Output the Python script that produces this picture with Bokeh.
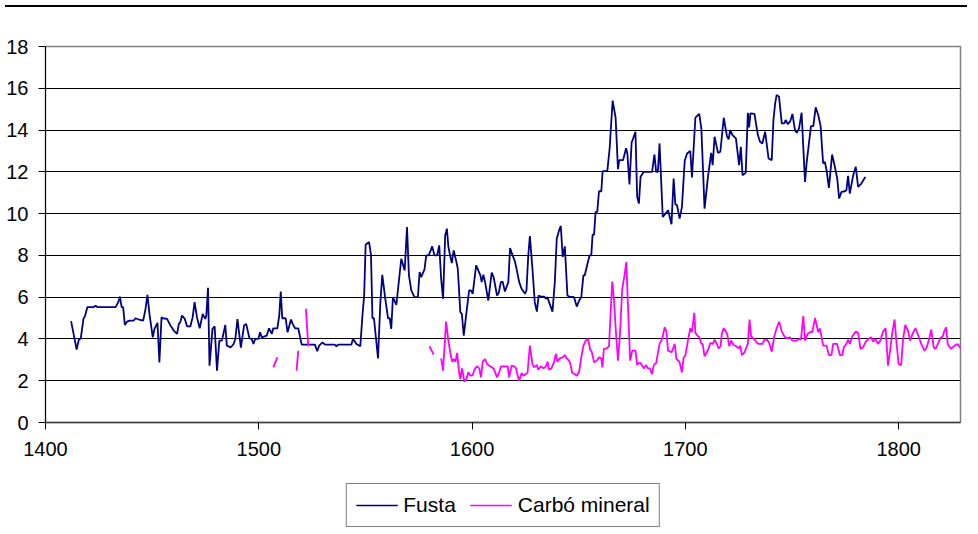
import numpy as np
from bokeh.plotting import figure
from bokeh.models import Legend, LegendItem, Div, FixedTicker, Range1d
from bokeh.layouts import column
from bokeh.embed import file_html
from bokeh.resources import INLINE

nan = float("nan")

fusta_year = [1412.0, 1414.6, 1415.7, 1416.5, 1417.8, 1418.5, 1419.6, 1422.7, 1423.5, 1424.3,
              1432.9, 1434.1, 1434.9, 1435.7, 1436.4, 1437.2, 1438.3, 1439.4, 1441.4, 1442.2,
              1443.8, 1445.8, 1446.9, 1447.8, 1448.8, 1450.3, 1451.1, 1452.5, 1453.4, 1454.4,
              1455.0, 1457.0, 1458.6, 1460.1, 1461.7, 1462.5, 1463.2, 1464.0, 1465.3, 1466.4,
              1467.9, 1469.0, 1469.9, 1471.0, 1472.3, 1473.7, 1474.9, 1475.4, 1476.2, 1476.9,
              1478.3, 1479.3, 1480.4, 1481.5, 1482.7, 1484.3, 1485.0, 1486.9, 1488.2, 1489.0,
              1490.0, 1491.6, 1493.1, 1494.1, 1495.6, 1496.7, 1497.5, 1498.3, 1499.8, 1500.6,
              1501.4, 1503.7, 1504.8, 1506.1, 1506.8, 1508.7, 1509.6, 1510.3, 1511.0, 1512.6,
              1513.5, 1515.1, 1515.9, 1517.0, 1518.5, 1520.1, 1523.2, 1526.3, 1527.4, 1528.3,
              1529.9, 1531.0, 1535.6, 1536.4, 1537.2, 1543.4, 1544.2, 1545.8, 1547.6, 1548.6,
              1549.4, 1550.1, 1551.7, 1552.6, 1553.3, 1554.0, 1555.9, 1557.0, 1557.9, 1559.2,
              1560.6, 1561.4, 1562.1, 1562.9, 1564.5, 1566.8, 1568.4, 1569.5, 1570.4, 1571.5,
              1573.0, 1574.6, 1575.4, 1576.1, 1577.7, 1578.5, 1579.7, 1581.3, 1582.4, 1583.6,
              1584.6, 1585.5, 1586.4, 1587.4, 1588.2, 1588.9, 1589.7, 1590.5, 1591.4, 1592.5,
              1593.3, 1594.5, 1595.2, 1596.1, 1597.2, 1598.6, 1599.5, 1600.3, 1601.9, 1602.9,
              1603.9, 1604.5, 1605.3, 1606.1, 1607.6, 1609.2, 1610.1, 1611.7, 1612.5, 1613.5,
              1614.3, 1615.4, 1617.0, 1617.8, 1619.0, 1620.1, 1621.0, 1622.1, 1623.2, 1624.8,
              1625.5, 1626.3, 1627.1, 1628.3, 1629.4, 1630.4, 1631.2, 1632.2, 1633.8, 1634.6,
              1635.4, 1636.1, 1637.7, 1638.8, 1639.7, 1640.8, 1641.6, 1642.5, 1643.5, 1644.7,
              1645.5, 1647.8, 1649.1, 1650.2, 1651.2, 1652.2, 1652.8, 1654.0, 1655.1, 1655.9,
              1656.5, 1657.2, 1657.9, 1658.7, 1659.5, 1660.6, 1661.2, 1663.4, 1664.5, 1665.9,
              1667.3, 1668.4, 1669.0, 1670.8, 1672.2, 1672.8, 1673.8, 1674.8, 1676.6, 1677.4,
              1678.2, 1679.0, 1680.5, 1684.4, 1685.5, 1686.3, 1687.1, 1687.9, 1689.4, 1690.3,
              1691.9, 1693.5, 1694.5, 1695.3, 1696.1, 1697.3, 1698.4, 1699.7, 1700.8, 1702.3,
              1703.1, 1704.7, 1706.5, 1707.5, 1709.0, 1710.6, 1712.1, 1712.8, 1713.7, 1715.3,
              1716.4, 1718.0, 1719.5, 1720.3, 1721.0, 1722.1, 1723.7, 1725.2, 1726.0, 1726.8,
              1728.3, 1729.3, 1729.9, 1730.5, 1732.4, 1734.0, 1735.0, 1736.1, 1737.4, 1739.0,
              1740.5, 1741.3, 1742.1, 1742.8, 1743.9, 1745.2, 1746.4, 1747.0, 1748.0, 1749.1,
              1750.2, 1751.4, 1752.2, 1753.3, 1754.5, 1756.1, 1756.9, 1758.9, 1760.0, 1761.1,
              1762.3, 1763.4, 1764.6, 1765.4, 1766.2, 1767.3, 1768.8, 1770.1, 1771.2, 1772.1,
              1773.2, 1774.8, 1775.5, 1776.3, 1777.1, 1778.7, 1779.9, 1781.0, 1782.5, 1784.4]

fusta_value = [4.85, 3.49, 4.0, 4.0, 4.96, 5.09, 5.52, 5.52, 5.6, 5.52,
               5.52, 5.76, 6.03, 5.52, 5.52, 4.67, 4.83, 4.88, 4.88, 4.99,
               4.93, 4.88, 5.44, 6.11, 5.15, 4.08, 4.48, 4.77, 2.88, 5.04,
               4.99, 4.96, 4.64, 4.4, 4.24, 4.72, 4.8, 5.12, 4.96, 4.6,
               4.6, 5.04, 5.76, 5.04, 4.51, 5.2, 4.96, 5.12, 6.45, 2.72,
               4.48, 4.6, 2.48, 3.92, 3.92, 4.67, 3.68, 3.6, 3.76, 4.0,
               4.95, 3.58, 4.64, 4.72, 4.03, 4.0, 3.76, 4.0, 4.0, 4.32,
               4.08, 4.16, 4.51, 4.24, 4.51, 4.51, 5.12, 6.27, 4.99, 4.99,
               4.32, 4.93, 4.72, 4.51, 4.51, 3.73, 3.73, 3.73, 3.41, 3.68,
               3.84, 3.73, 3.73, 3.65, 3.73, 3.73, 4.0, 3.76, 3.65, 5.12,
               6.08, 8.51, 8.64, 8.03, 4.99, 4.99, 3.07, 5.76, 7.07, 6.0,
               4.99, 4.99, 4.48, 6.0, 5.63, 7.84, 7.28, 9.36, 7.04, 6.32,
               6.0, 6.0, 7.2, 6.96, 7.33, 8.0, 8.0, 8.43, 8.0, 8.0,
               8.48, 6.88, 5.92, 8.96, 9.28, 8.4, 8.0, 7.63, 8.24, 7.76,
               7.36, 5.28, 5.2, 4.16, 5.12, 6.32, 6.32, 6.16, 7.52, 7.28,
               7.04, 6.72, 7.07, 6.72, 5.84, 7.17, 6.96, 6.08, 6.21, 6.72,
               6.75, 6.27, 6.72, 8.35, 8.0, 7.71, 7.28, 6.72, 6.4, 6.16,
               6.32, 7.92, 8.93, 7.36, 5.76, 5.31, 6.08, 6.03, 6.03, 5.92,
               6.0, 5.76, 5.31, 6.72, 8.8, 9.2, 9.41, 7.92, 8.43, 6.08,
               6.03, 6.0, 5.55, 5.84, 6.0, 7.04, 7.04, 7.55, 8.0, 8.0,
               8.99, 8.99, 10.08, 10.08, 11.07, 11.07, 12.03, 12.03, 13.12, 15.41,
               14.59, 12.13, 12.56, 12.56, 13.13, 12.88, 11.4, 13.39, 13.92, 10.8,
               10.48, 11.76, 12.0, 12.0, 12.83, 12.0, 12.0, 13.36, 9.84, 9.95,
               10.16, 9.49, 11.68, 10.45, 10.4, 9.76, 10.32, 12.53, 12.88, 13.0,
               11.73, 14.59, 14.77, 14.08, 10.24, 11.76, 12.91, 12.32, 13.68, 12.91,
               12.96, 14.59, 13.71, 13.55, 14.0, 13.76, 13.6, 12.32, 13.2, 11.84,
               11.95, 14.83, 14.13, 14.8, 14.77, 13.76, 13.44, 13.36, 13.92, 12.64,
               12.56, 14.48, 15.28, 15.68, 15.6, 14.32, 14.32, 14.48, 14.29, 14.4,
               14.77, 14.0, 13.87, 14.08, 14.83, 11.52, 12.48, 14.19, 14.19, 15.09,
               14.72, 14.2, 12.4, 12.48, 12.08, 11.23, 12.83, 12.24, 11.68, 10.72,
               11.04, 11.07, 11.12, 11.81, 10.96, 11.84, 12.24, 11.28, 11.44, 11.76]

carbo_year = [1506.8, 1508.7, nan, 1517.7, 1518.5, nan, 1522.1, 1523.2, nan, 1580.0, 1582.0, nan,
              1585.5, 1586.4, 1587.8, 1588.9, 1589.9, 1590.7, 1591.4, 1592.2, 1593.0, 1593.8,
              1594.5, 1595.3, 1596.4, 1597.3, 1598.3, 1599.2, 1600.3, 1601.1, 1602.2, 1603.4,
              1604.2, 1605.0, 1606.1, 1607.0, 1608.1, 1609.2, 1610.1, 1611.7, 1612.8, 1613.6,
              1614.8, 1616.7, 1617.4, 1618.5, 1619.8, 1620.6, 1621.3, 1622.1, 1623.2, 1624.1,
              1625.2, 1626.0, 1627.1, 1628.3, 1629.1, 1630.4, 1631.0, 1632.2, 1633.5, 1634.6,
              1635.4, 1636.1, 1637.2, 1638.5, 1639.3, 1640.0, 1641.1, 1642.4, 1643.5, 1644.4,
              1645.0, 1645.9, 1647.0, 1648.1, 1649.1, 1650.2, 1651.2, 1652.2, 1653.3, 1654.4,
              1655.3, 1656.2, 1657.2, 1658.4, 1659.5, 1660.6, 1661.1, 1661.8, 1663.1, 1664.2,
              1665.7, 1666.5, 1667.3, 1668.4, 1669.3, 1670.4, 1671.5, 1672.3, 1674.1, 1675.1,
              1676.6, 1677.4, 1678.2, 1679.0, 1680.5, 1681.6, 1682.4, 1683.3, 1684.4, 1685.2,
              1686.3, 1687.9, 1689.1, 1690.3, 1691.1, 1691.9, 1693.5, 1695.0, 1695.8, 1697.2,
              1698.4, 1699.2, 1700.0, 1701.2, 1702.3, 1703.1, 1704.2, 1704.7, 1705.9, 1706.5,
              1707.5, 1708.1, 1709.0, 1710.1, 1710.9, 1711.7, 1712.8, 1713.7, 1714.8, 1715.6,
              1716.5, 1717.1, 1717.9, 1719.0, 1719.6, 1720.6, 1721.5, 1722.6, 1723.8, 1724.9,
              1725.7, 1726.5, 1727.7, 1729.3, 1730.1, 1730.8, 1731.9, 1733.5, 1734.3, 1736.1,
              1737.1, 1738.2, 1739.3, 1740.5, 1741.7, 1742.8, 1744.0, 1745.2, 1746.4, 1747.5,
              1749.1, 1750.2, 1752.2, 1753.3, 1754.2, 1755.3, 1756.1, 1757.3, 1758.9, 1759.5,
              1760.8, 1762.3, 1763.1, 1764.6, 1766.2, 1767.3, 1768.5, 1769.3, 1771.2, 1772.4,
              1773.5, 1774.3, 1775.5, 1776.3, 1777.1, 1778.3, 1779.9, 1781.0, 1782.1, 1783.3,
              1784.6, 1786.1, 1787.2, 1788.0, 1789.2, 1790.3, 1791.4, 1792.7, 1793.9, 1795.0,
              1796.1, 1797.0, 1798.1, 1798.9, 1800.0, 1801.2, 1802.0, 1803.1, 1804.4, 1805.4,
              1806.7, 1807.9, 1809.5, 1810.6, 1812.1, 1813.2, 1814.5, 1815.3, 1816.4, 1817.3,
              1818.4, 1819.5, 1820.7, 1821.5, 1822.3, 1823.0, 1824.6, 1826.2, 1827.7, 1829.3,
              1830.1]

carbo_value = [2.64, 3.12, nan, 2.48, 3.44, nan, 5.44, 3.65, nan, 3.65, 3.25, nan,
               3.07, 2.48, 4.83, 3.92, 3.28, 2.91, 3.04, 2.91, 3.33, 2.48,
               2.08, 2.59, 1.95, 2.08, 2.4, 2.24, 2.27, 2.53, 2.69, 2.59,
               2.16, 2.91, 3.04, 2.8, 2.72, 2.64, 2.59, 2.16, 2.43, 2.69,
               2.69, 2.69, 2.16, 2.72, 2.69, 2.59, 2.27, 2.0, 2.37, 2.24,
               2.32, 2.37, 3.68, 2.8, 2.64, 2.75, 2.53, 2.69, 2.59, 2.69,
               2.91, 2.53, 2.59, 2.91, 3.28, 2.91, 3.07, 3.12, 3.23, 3.07,
               3.01, 2.88, 2.37, 2.32, 2.24, 2.43, 3.12, 3.68, 3.92, 4.0,
               3.52, 3.36, 2.88, 2.96, 3.12, 3.07, 2.64, 3.52, 3.55, 3.65,
               6.75, 5.92, 4.56, 2.96, 4.16, 6.4, 7.07, 7.68, 2.96, 3.44,
               3.44, 2.75, 2.85, 2.85, 2.59, 2.75, 2.59, 2.59, 2.32, 2.75,
               2.85, 3.76, 4.0, 4.56, 4.35, 3.44, 3.36, 3.76, 3.04, 2.91,
               2.4, 3.12, 3.2, 3.92, 4.51, 4.32, 5.25, 4.29, 4.13, 4.08,
               3.76, 3.76, 3.17, 3.36, 3.55, 3.81, 3.76, 3.97, 3.76, 3.55,
               3.65, 4.24, 4.51, 4.35, 4.24, 3.65, 3.92, 3.71, 3.65, 3.55,
               3.68, 3.23, 3.36, 3.76, 4.93, 4.13, 4.03, 3.84, 3.76, 3.76,
               3.97, 3.97, 3.81, 3.39, 4.13, 4.51, 4.83, 4.35, 4.13, 4.03,
               4.08, 3.92, 3.92, 4.0, 3.97, 5.09, 3.92, 4.24, 4.35, 4.32,
               4.99, 4.32, 4.51, 3.68, 3.68, 3.23, 3.23, 3.76, 3.76, 3.23,
               3.23, 3.6, 3.76, 3.97, 3.76, 4.13, 4.35, 4.29, 3.52, 3.6,
               3.87, 4.03, 4.08, 3.87, 4.0, 3.76, 3.92, 4.35, 4.51, 2.72,
               3.52, 4.29, 4.93, 3.92, 2.8, 2.75, 3.92, 4.67, 4.4, 3.92,
               4.29, 4.51, 4.08, 3.76, 3.44, 3.6, 4.08, 4.45, 3.6, 3.52,
               3.76, 4.03, 4.13, 4.4, 4.56, 3.76, 3.52, 3.68, 3.76, 3.52,
               3.52]

series_names = ["Fusta", "Carbó mineral"]
series_colors = ["#000080", "#FF00FF"]

x_ticks = [1400, 1500, 1600, 1700, 1800]
y_ticks = [0, 2, 4, 6, 8, 10, 12, 14, 16, 18]

FONT = "Liberation Sans"

p = figure(width=962, height=460, x_range=Range1d(1400, 1829), y_range=Range1d(0, 18),
           output_backend="svg", toolbar_location=None,
           min_border_left=45, min_border_right=2, min_border_top=34, min_border_bottom=50)

p.background_fill_color = "white"
p.border_fill_color = "white"
p.outline_line_color = "#808080"
p.outline_line_width = 1.5

p.line(fusta_year, fusta_value, line_color=series_colors[0], line_width=1.8)
p.line(carbo_year, carbo_value, line_color=series_colors[1], line_width=1.8)

p.xgrid.grid_line_color = None
p.ygrid.grid_line_color = "black"
p.ygrid.grid_line_width = 1
p.ygrid.ticker = FixedTicker(ticks=y_ticks)

p.xaxis.ticker = FixedTicker(ticks=x_ticks)
p.yaxis.ticker = FixedTicker(ticks=y_ticks)
for ax in (p.xaxis, p.yaxis):
    ax.major_label_text_font = FONT
    ax.major_label_text_font_size = "20px"
    ax.major_label_text_color = "black"
    ax.major_tick_out = 7
    ax.major_tick_in = 0
    ax.minor_tick_out = 0
    ax.minor_tick_in = 0
    ax.major_tick_line_color = "black"
p.xaxis.axis_line_color = "#404040"
p.xaxis.axis_line_width = 1.5
p.yaxis.axis_line_color = "black"
p.yaxis.axis_line_width = 1
p.xaxis.major_label_standoff = 12
p.yaxis.major_label_standoff = 10

# legend strip below the chart (its sample lines sit outside the visible range)
lg = figure(width=962, height=56, x_range=Range1d(0, 1), y_range=Range1d(0, 1),
            output_backend="svg", toolbar_location=None,
            min_border_left=0, min_border_right=0, min_border_top=0, min_border_bottom=0)
lg.axis.visible = False
lg.grid.visible = False
lg.outline_line_color = None
lg.background_fill_color = "white"
lg.border_fill_color = "white"
items = []
for name, col in zip(series_names, series_colors):
    rr = lg.line([5, 6], [5, 6], line_color=col, line_width=1.5)
    items.append(LegendItem(label=name, renderers=[rr]))

legend = Legend(items=items, location="bottom_center", orientation="horizontal")
legend.label_text_font = FONT
legend.label_text_font_size = "21px"
legend.label_text_color = "black"
legend.border_line_color = "black"
legend.border_line_width = 1
legend.background_fill_color = "white"
legend.background_fill_alpha = 1
legend.glyph_width = 42
legend.glyph_height = 20
legend.label_standoff = 6
legend.spacing = 14
legend.padding = 9
legend.margin = 1
legend.label_height = 22
lg.add_layout(legend, "center")

topline = Div(text="", width=962, height=2, styles={"background-color": "black"})

layout = column(topline, p, lg, spacing=0)

open("out.html", "w").write(file_html(layout, INLINE))
